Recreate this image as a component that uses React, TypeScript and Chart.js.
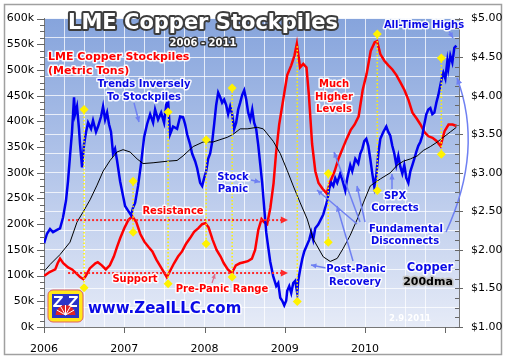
import React, { useEffect, useRef } from 'react';
import { Chart, registerables } from 'chart.js';
Chart.register(...registerables);

// LME copper stockpiles, thousand metric tons [decimal year, kt]
const stockpiles: [number, number][] = [
  [2006.00, 99], [2006.07, 107], [2006.14, 112], [2006.17, 124], [2006.20, 133], [2006.24, 124],
  [2006.30, 116], [2006.35, 112], [2006.40, 105], [2006.45, 97], [2006.49, 93], [2006.52, 99],
  [2006.57, 114], [2006.64, 124], [2006.67, 126], [2006.72, 120], [2006.77, 112], [2006.82, 120],
  [2006.87, 137], [2006.91, 156], [2006.95, 173], [2007.00, 192], [2007.05, 208], [2007.10, 215],
  [2007.15, 204], [2007.20, 181], [2007.25, 166], [2007.30, 156], [2007.35, 147], [2007.40, 131],
  [2007.45, 118], [2007.50, 105], [2007.53, 97], [2007.57, 109], [2007.62, 124], [2007.67, 137],
  [2007.72, 147], [2007.77, 162], [2007.82, 173], [2007.87, 185], [2007.92, 192], [2007.97, 200],
  [2008.01, 202], [2008.05, 194], [2008.10, 170], [2008.15, 150], [2008.20, 137], [2008.24, 124],
  [2008.29, 112], [2008.34, 105], [2008.39, 120], [2008.44, 124], [2008.49, 126], [2008.54, 128],
  [2008.59, 133], [2008.63, 150], [2008.67, 189], [2008.71, 210], [2008.74, 204], [2008.78, 200],
  [2008.82, 232], [2008.86, 280], [2008.89, 337], [2008.93, 394], [2008.98, 442], [2009.03, 490],
  [2009.08, 509], [2009.12, 528], [2009.15, 551], [2009.19, 505], [2009.23, 512], [2009.27, 505],
  [2009.30, 451], [2009.34, 356], [2009.38, 303], [2009.42, 280], [2009.47, 269], [2009.52, 260],
  [2009.57, 284], [2009.62, 303], [2009.67, 328], [2009.72, 347], [2009.77, 366], [2009.82, 383],
  [2009.87, 394], [2009.92, 410], [2009.97, 461], [2010.02, 493], [2010.07, 537], [2010.12, 554],
  [2010.15, 556], [2010.19, 531], [2010.24, 518], [2010.29, 509], [2010.34, 501], [2010.39, 490],
  [2010.44, 476], [2010.49, 461], [2010.54, 442], [2010.59, 417], [2010.64, 406], [2010.69, 394],
  [2010.74, 379], [2010.79, 371], [2010.84, 368], [2010.89, 362], [2010.94, 352], [2010.99, 381],
  [2011.04, 394], [2011.09, 394], [2011.14, 391],
];

// Copper price, $/lb [decimal year, $]
const copper: [number, number][] = [
  [2006.000, 2.08], [2006.037, 2.21], [2006.075, 2.27], [2006.112, 2.23], [2006.162, 2.26], [2006.200, 2.28],
  [2006.237, 2.42], [2006.274, 2.64], [2006.299, 2.89], [2006.324, 3.22], [2006.349, 3.53], [2006.374, 3.98],
  [2006.387, 3.76], [2006.411, 3.86], [2006.436, 3.57], [2006.449, 3.37], [2006.474, 3.07], [2006.499, 3.37],
  [2006.524, 3.53], [2006.549, 3.65], [2006.586, 3.57], [2006.611, 3.68], [2006.648, 3.53], [2006.673, 3.60],
  [2006.711, 3.73], [2006.736, 3.86], [2006.761, 3.69], [2006.786, 3.78], [2006.810, 3.63], [2006.835, 3.53],
  [2006.860, 3.25], [2006.885, 3.31], [2006.910, 3.16], [2006.948, 2.89], [2006.985, 2.70], [2007.010, 2.57],
  [2007.047, 2.51], [2007.085, 2.45], [2007.110, 2.55], [2007.135, 2.61], [2007.172, 2.83], [2007.209, 3.12],
  [2007.247, 3.46], [2007.284, 3.63], [2007.322, 3.76], [2007.359, 3.65], [2007.384, 3.82], [2007.421, 3.69],
  [2007.459, 3.78], [2007.496, 3.65], [2007.521, 3.88], [2007.546, 3.93], [2007.571, 3.50], [2007.608, 3.60],
  [2007.658, 3.57], [2007.696, 3.73], [2007.733, 3.72], [2007.758, 3.63], [2007.783, 3.50], [2007.820, 3.37],
  [2007.845, 3.25], [2007.883, 3.15], [2007.908, 3.06], [2007.945, 2.87], [2007.970, 2.83], [2007.995, 2.93],
  [2008.020, 3.02], [2008.045, 3.18], [2008.070, 3.25], [2008.095, 3.40], [2008.120, 3.63], [2008.145, 3.88],
  [2008.170, 4.04], [2008.195, 3.98], [2008.219, 3.91], [2008.244, 3.95], [2008.269, 3.88], [2008.294, 3.76],
  [2008.319, 3.86], [2008.344, 3.76], [2008.369, 3.57], [2008.394, 3.65], [2008.419, 3.82], [2008.444, 3.91],
  [2008.469, 4.01], [2008.494, 4.07], [2008.519, 3.95], [2008.544, 3.78], [2008.569, 3.69], [2008.594, 3.82],
  [2008.618, 3.65], [2008.643, 3.57], [2008.668, 3.37], [2008.693, 3.12], [2008.718, 2.87], [2008.743, 2.55],
  [2008.768, 2.23], [2008.793, 2.04], [2008.818, 1.85], [2008.855, 1.66], [2008.893, 1.53], [2008.918, 1.57],
  [2008.943, 1.38], [2008.968, 1.34], [2008.993, 1.28], [2009.017, 1.34], [2009.030, 1.47], [2009.055, 1.53],
  [2009.080, 1.44], [2009.105, 1.57], [2009.130, 1.60], [2009.155, 1.44], [2009.167, 1.60], [2009.192, 1.75],
  [2009.217, 1.88], [2009.242, 1.98], [2009.279, 2.07], [2009.304, 2.13], [2009.329, 2.23], [2009.354, 2.13],
  [2009.379, 2.28], [2009.416, 2.33], [2009.441, 2.38], [2009.479, 2.46], [2009.504, 2.55], [2009.529, 2.64],
  [2009.554, 2.80], [2009.579, 2.87], [2009.604, 2.83], [2009.628, 2.93], [2009.653, 2.87], [2009.691, 2.99],
  [2009.716, 2.91], [2009.753, 2.77], [2009.778, 2.93], [2009.815, 3.10], [2009.840, 3.02], [2009.878, 3.18],
  [2009.915, 3.12], [2009.940, 3.25], [2009.965, 3.31], [2009.990, 3.41], [2010.015, 3.44], [2010.040, 3.35],
  [2010.065, 3.18], [2010.090, 2.99], [2010.115, 2.82], [2010.140, 2.97], [2010.165, 3.25], [2010.190, 3.44],
  [2010.227, 3.53], [2010.264, 3.60], [2010.289, 3.53], [2010.314, 3.48], [2010.339, 3.35], [2010.364, 3.25],
  [2010.389, 3.10], [2010.414, 3.22], [2010.439, 3.08], [2010.464, 2.99], [2010.489, 3.10], [2010.514, 2.93],
  [2010.539, 2.87], [2010.564, 3.02], [2010.589, 3.10], [2010.613, 3.18], [2010.638, 3.27], [2010.663, 3.35],
  [2010.688, 3.40], [2010.713, 3.48], [2010.738, 3.63], [2010.763, 3.76], [2010.788, 3.82], [2010.813, 3.84],
  [2010.838, 3.76], [2010.863, 3.78], [2010.888, 3.91], [2010.913, 4.01], [2010.938, 4.14], [2010.963, 4.26],
  [2010.975, 4.30], [2011.000, 4.22], [2011.025, 4.45], [2011.037, 4.35], [2011.062, 4.52], [2011.087, 4.43],
  [2011.112, 4.62], [2011.137, 4.65],
];

// Copper 200-day moving average, $/lb [decimal year, $]
const copper200dma: [number, number][] = [
  [2006.000, 1.72], [2006.075, 1.81], [2006.200, 1.94], [2006.324, 2.10], [2006.411, 2.36], [2006.486, 2.49],
  [2006.574, 2.65], [2006.661, 2.84], [2006.736, 3.02], [2006.823, 3.16], [2006.910, 3.27], [2006.985, 3.30],
  [2007.072, 3.27], [2007.160, 3.18], [2007.234, 3.12], [2007.359, 3.13], [2007.534, 3.15], [2007.658, 3.16],
  [2007.733, 3.22], [2007.858, 3.34], [2007.983, 3.40], [2008.107, 3.40], [2008.282, 3.46], [2008.357, 3.50],
  [2008.444, 3.57], [2008.531, 3.57], [2008.656, 3.59], [2008.731, 3.57], [2008.855, 3.41], [2008.943, 3.25],
  [2009.030, 3.03], [2009.105, 2.83], [2009.192, 2.61], [2009.279, 2.40], [2009.354, 2.14], [2009.479, 1.91],
  [2009.566, 1.85], [2009.653, 1.89], [2009.728, 2.02], [2009.815, 2.19], [2009.903, 2.40], [2009.978, 2.61],
  [2010.065, 2.83], [2010.190, 2.92], [2010.314, 3.00], [2010.401, 3.10], [2010.476, 3.15], [2010.564, 3.18],
  [2010.651, 3.22], [2010.726, 3.29], [2010.813, 3.34], [2010.900, 3.40], [2010.975, 3.46], [2011.062, 3.53],
  [2011.137, 3.59],
];

// Highlighted turning points: [decimal year, top $ (price axis), bottom $ (price axis), has top diamond]
const turningPoints: [number, number, number, boolean][] = [
  [2006.499, 3.82, 1.51, true], [2007.110, 2.89, 2.23, true], [2007.546, 3.79, 1.56, true],
  [2008.020, 3.43, 2.08, true], [2008.344, 4.10, 1.65, true], [2009.155, 4.64, 1.33, false],
  [2009.541, 2.99, 2.10, true], [2010.152, 4.80, 2.77, true], [2010.950, 4.49, 3.24, true],
];

// Stockpile range levels (kt) and span (years)
const resistanceKt = 208;
const supportKt = 105;
const rangeSpan = [2006.30, 2009.04];

const yearTicks = [2006, 2007, 2008, 2009, 2010, 2011];
const stockTicksMax = 600;
const priceMin = 1;
const priceMax = 5;

const FONT = '"DejaVu Sans", Verdana, sans-serif';

function txt(ctx: CanvasRenderingContext2D, s: string, x: number, y: number, size: number, fill: string,
  stroke: string | null, sw: number, align: CanvasTextAlign = 'center') {
  ctx.font = `bold ${size}px ${FONT}`;
  ctx.textAlign = align;
  ctx.textBaseline = 'middle';
  if (stroke) {
    ctx.lineJoin = 'round';
    ctx.lineWidth = sw;
    ctx.strokeStyle = stroke;
    ctx.strokeText(s, x, y);
  }
  ctx.fillStyle = fill;
  ctx.fillText(s, x, y);
}

function head(ctx: CanvasRenderingContext2D, x: number, y: number, ang: number, size: number, color: string) {
  ctx.save();
  ctx.fillStyle = color;
  ctx.beginPath();
  ctx.moveTo(x, y);
  ctx.lineTo(x - size * Math.cos(ang - 0.45), y - size * Math.sin(ang - 0.45));
  ctx.lineTo(x - size * Math.cos(ang + 0.45), y - size * Math.sin(ang + 0.45));
  ctx.closePath();
  ctx.fill();
  ctx.restore();
}

function arrow(ctx: CanvasRenderingContext2D, x1: number, y1: number, x2: number, y2: number, color: string, lw = 1.5, hs = 6) {
  ctx.save();
  ctx.strokeStyle = color;
  ctx.lineWidth = lw;
  ctx.setLineDash([]);
  ctx.beginPath();
  ctx.moveTo(x1, y1);
  ctx.lineTo(x2, y2);
  ctx.stroke();
  head(ctx, x2, y2, Math.atan2(y2 - y1, x2 - x1), hs, color);
  ctx.restore();
}

const isInt = (v: number) => Math.abs(v - Math.round(v)) < 1e-6;

const overlay = {
  id: 'overlay',
  beforeDraw(chart: any) {
    const { ctx, chartArea: a, width, height } = chart;
    ctx.save();
    ctx.fillStyle = '#ffffff';
    ctx.fillRect(0, 0, width, height);
    const g = ctx.createLinearGradient(0, a.top, 0, a.bottom);
    g.addColorStop(0, '#86a4dc');
    g.addColorStop(0.5, '#b4c6ea');
    g.addColorStop(1, '#e6ebf7');
    ctx.fillStyle = g;
    ctx.fillRect(a.left, a.top, a.right - a.left, a.bottom - a.top);
    ctx.strokeStyle = '#a0a0a0';
    ctx.lineWidth = 1.5;
    ctx.strokeRect(4.5, 4.5, 497, 350);
    ctx.restore();
  },
  afterDatasetsDraw(chart: any) {
    const { ctx } = chart;
    const xs = chart.scales.x, yl = chart.scales.yL, yr = chart.scales.yR;
    ctx.save();

    // support / resistance dotted levels
    const x0 = xs.getPixelForValue(rangeSpan[0]);
    const x1 = xs.getPixelForValue(rangeSpan[1]);
    [resistanceKt, supportKt].forEach((lv) => {
      const y = yl.getPixelForValue(lv);
      ctx.strokeStyle = '#ff2a2a';
      ctx.lineWidth = 2;
      ctx.setLineDash([2, 2]);
      ctx.beginPath();
      ctx.moveTo(x0, y);
      ctx.lineTo(x1 - 6, y);
      ctx.stroke();
      ctx.setLineDash([]);
      head(ctx, x1, y, 0, 8, '#ff2a2a');
    });

    // yellow turning point markers
    turningPoints.forEach(([d, top, bot, hasTop]) => {
      const x = xs.getPixelForValue(d);
      const yt = yr.getPixelForValue(top);
      const yb = yr.getPixelForValue(bot);
      ctx.strokeStyle = '#fff200';
      ctx.lineWidth = 1.5;
      ctx.setLineDash([1.5, 2]);
      ctx.beginPath();
      ctx.moveTo(x, yt);
      ctx.lineTo(x, yb);
      ctx.stroke();
      ctx.setLineDash([]);
      const dia = (cy: number) => {
        ctx.fillStyle = '#fff200';
        ctx.beginPath();
        ctx.moveTo(x, cy - 4.5);
        ctx.lineTo(x + 4.5, cy);
        ctx.lineTo(x, cy + 4.5);
        ctx.lineTo(x - 4.5, cy);
        ctx.closePath();
        ctx.fill();
      };
      if (hasTop) dia(yt);
      dia(yb);
    });

    // pointer arrows
    const ab = '#6f80f2';
    arrow(ctx, 134, 103, 139, 122, ab);
    arrow(ctx, 251, 180, 260, 182, ab);
    arrow(ctx, 326, 268, 311, 265, ab);
    arrow(ctx, 353, 261, 337, 206, ab);
    arrow(ctx, 360, 222, 334, 152, ab);
    arrow(ctx, 357, 224, 317, 190, ab);
    arrow(ctx, 365, 222, 357, 186, ab);
    arrow(ctx, 392, 189, 392, 174, ab);
    arrow(ctx, 449, 31, 453, 38, ab);
    arrow(ctx, 212, 283, 215, 274, '#e0708a', 1.2, 5);
    // curved arrow from "Fundamental Disconnects" up to all-time highs
    ctx.strokeStyle = ab;
    ctx.lineWidth = 1.5;
    ctx.beginPath();
    ctx.moveTo(446, 232);
    ctx.quadraticCurveTo(484, 150, 457, 78);
    ctx.stroke();
    head(ctx, 457, 78, Math.atan2(78 - 150, 457 - 484), 7, ab);

    // titles
    txt(ctx, 'LME Copper Stockpiles', 203, 24, 21, '#ffffff', '#3c3c3c', 4);
    txt(ctx, '2006 - 2011', 203, 43, 10, '#ffffff', '#333333', 3);

    const R = '#ff0000', B = '#0a0ae6', W = 'rgba(255,255,255,0.92)';
    txt(ctx, 'LME Copper Stockpiles', 48, 57, 11, R, W, 3, 'left');
    txt(ctx, '(Metric Tons)', 48, 71, 11, R, W, 3, 'left');
    txt(ctx, 'Trends Inversely', 144, 84, 10, B, W, 3);
    txt(ctx, 'To Stockpiles', 144, 97, 10, B, W, 3);
    txt(ctx, 'Resistance', 173, 211, 10, R, W, 3);
    txt(ctx, 'Support', 135, 279, 10, R, W, 3);
    txt(ctx, 'Pre-Panic Range', 222, 289, 10, R, W, 3);
    txt(ctx, 'Stock', 233, 177, 10, B, W, 3);
    txt(ctx, 'Panic', 233, 189, 10, B, W, 3);
    txt(ctx, 'Much', 334, 84, 10, R, W, 3);
    txt(ctx, 'Higher', 334, 97, 10, R, W, 3);
    txt(ctx, 'Levels', 334, 109, 10, R, W, 3);
    txt(ctx, 'All-Time Highs', 424, 25, 10, B, W, 3);
    txt(ctx, 'SPX', 395, 196, 10, B, W, 3);
    txt(ctx, 'Corrects', 395, 208, 10, B, W, 3);
    txt(ctx, 'Fundamental', 406, 229, 10, B, W, 3);
    txt(ctx, 'Disconnects', 405, 241, 10, B, W, 3);
    txt(ctx, 'Post-Panic', 356, 269, 10, B, W, 3);
    txt(ctx, 'Recovery', 355, 282, 10, B, W, 3);
    txt(ctx, 'Copper', 430, 268, 11.5, B, W, 3);
    txt(ctx, '200dma', 428, 282, 11, '#000000', '#c4c4c4', 3);
    txt(ctx, '2.9.2011', 410, 319, 8.5, '#ffffff', null, 0);
    txt(ctx, 'www.ZealLLC.com', 88, 309, 15, '#0a0ae6', W, 3, 'left');

    // logo
    const lx = 48, ly = 290, lw = 35, lh = 32;
    ctx.fillStyle = '#ffe81a';
    ctx.strokeStyle = '#e06060';
    ctx.lineWidth = 1;
    ctx.beginPath();
    (ctx as any).roundRect(lx, ly, lw, lh, 5);
    ctx.fill();
    ctx.stroke();
    ctx.fillStyle = '#2a34c8';
    ctx.fillRect(lx + 4, ly + 4, lw - 8, lh - 8);
    ctx.strokeStyle = '#ffffff';
    ctx.lineWidth = 2;
    ctx.beginPath();
    ctx.moveTo(lx + 6, ly + 7); ctx.lineTo(lx + 14, ly + 7); ctx.lineTo(lx + 6, ly + 16); ctx.lineTo(lx + 14, ly + 16);
    ctx.moveTo(lx + 21, ly + 7); ctx.lineTo(lx + 29, ly + 7); ctx.lineTo(lx + 21, ly + 16); ctx.lineTo(lx + 29, ly + 16);
    ctx.stroke();
    const cx = lx + lw / 2, cy = ly + lh - 7;
    ctx.fillStyle = '#e02424';
    ctx.beginPath();
    ctx.moveTo(cx, cy);
    ctx.arc(cx, cy, 10, Math.PI, 2 * Math.PI);
    ctx.closePath();
    ctx.fill();
    ctx.strokeStyle = '#ffffff';
    ctx.lineWidth = 1;
    for (let i = 1; i < 6; i++) {
      const an = Math.PI + (i * Math.PI) / 6;
      ctx.beginPath();
      ctx.moveTo(cx, cy);
      ctx.lineTo(cx + 10 * Math.cos(an), cy + 10 * Math.sin(an));
      ctx.stroke();
    }
    ctx.restore();
  },
  afterDraw(chart: any) {
    const { ctx } = chart;
    const xs = chart.scales.x, yl = chart.scales.yL, yr = chart.scales.yR;
    ctx.save();
    ctx.strokeStyle = '#666666';
    ctx.lineWidth = 1;
    ctx.beginPath();
    const lx = Math.round(yl.right);
    for (let v = 0; v <= stockTicksMax + 1e-9; v += 12.5) {
      const y = Math.round(yl.getPixelForValue(v)) + 0.5;
      const major = Math.abs(v % 50) < 1e-9;
      ctx.moveTo(major ? lx - 7 : lx - 4, y);
      ctx.lineTo(lx + 1, y);
    }
    const rx = Math.round(yr.left);
    for (let v = priceMin; v <= priceMax + 1e-9; v += 0.125) {
      const y = Math.round(yr.getPixelForValue(v)) + 0.5;
      const major = Math.abs((v * 2) - Math.round(v * 2)) < 1e-9;
      ctx.moveTo(rx - 4, y);
      ctx.lineTo(major ? rx + 4 : rx, y);
    }
    const by = Math.round(xs.top);
    yearTicks.forEach((yr2) => {
      const x = Math.round(xs.getPixelForValue(yr2)) + 0.5;
      ctx.moveTo(x, by);
      ctx.lineTo(x, by + 6);
    });
    ctx.stroke();
    ctx.restore();
  },
};

export default function App() {
  const ref = useRef<HTMLCanvasElement>(null);
  useEffect(() => {
    document.body.style.margin = '0';
    const canvas = ref.current!;
    const tickFont = { family: FONT, size: 11 };
    const grid = 'rgba(255,255,255,0.75)';
    const chart = new Chart(canvas, {
      type: 'line',
      data: {
        datasets: [
          {
            label: 'Copper 200dma',
            data: copper200dma.map(([x, y]) => ({ x, y })),
            yAxisID: 'yR', borderColor: '#000000', borderWidth: 1, pointRadius: 0,
          },
          {
            label: 'Copper',
            data: copper.map(([x, y]) => ({ x, y })),
            yAxisID: 'yR', borderColor: '#0000f0', borderWidth: 2.5, pointRadius: 0,
          },
          {
            label: 'LME Copper Stockpiles',
            data: stockpiles.map(([x, y]) => ({ x, y })),
            yAxisID: 'yL', borderColor: '#ff0000', borderWidth: 2.5, pointRadius: 0,
          },
        ],
      },
      options: {
        animation: false,
        responsive: false,
        events: [],
        layout: { padding: { top: 11, left: 0, right: 0, bottom: 0 } },
        plugins: { legend: { display: false }, tooltip: { enabled: false } },
        scales: {
          x: {
            type: 'linear', min: 2006, max: 2011.17,
            afterFit: (s: any) => { s.height = 32; },
            ticks: {
              stepSize: 0.25, autoSkip: false, maxRotation: 0, padding: 16, color: '#000', font: tickFont,
              callback: (v: any) => (isInt(Number(v)) ? String(Math.round(Number(v))) : ''),
            },
            grid: { color: grid, drawTicks: false },
            border: { color: '#777777' },
          },
          yL: {
            type: 'linear', position: 'left', min: 0, max: stockTicksMax,
            afterFit: (s: any) => { s.width = 44; },
            ticks: { stepSize: 50, padding: 10, color: '#000', font: tickFont, callback: (v: any) => `${v}k` },
            grid: { drawOnChartArea: false, drawTicks: false },
            border: { color: '#777777' },
          },
          yR: {
            type: 'linear', position: 'right', min: priceMin, max: priceMax,
            afterFit: (s: any) => { s.width = 47; },
            ticks: {
              stepSize: 0.25, autoSkip: false, padding: 12, color: '#000', font: tickFont,
              callback: (v: any) => {
                const n = Number(v);
                return isInt(n * 2) ? `$${n.toFixed(2)}` : '';
              },
            },
            grid: { color: grid, drawTicks: false },
            border: { color: '#777777' },
          },
        },
      },
      plugins: [overlay],
    } as any);
    return () => chart.destroy();
  }, []);
  return (
    <div style={{ width: 506, height: 359 }}>
      <canvas ref={ref} width={506} height={359} style={{ display: 'block' }} />
    </div>
  );
}
